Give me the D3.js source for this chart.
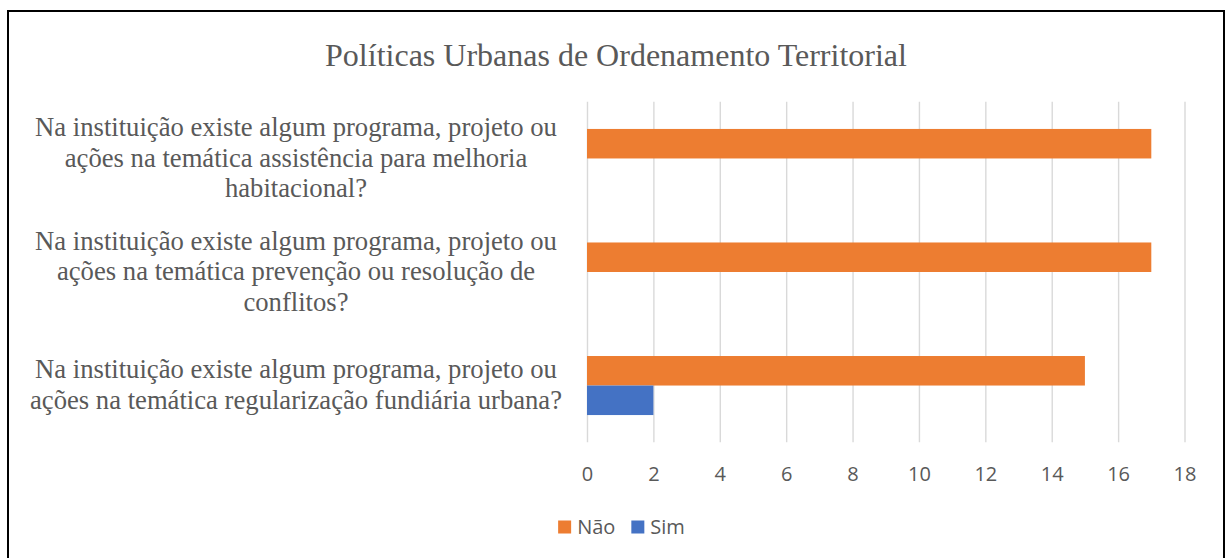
<!DOCTYPE html>
<html>
<head>
<meta charset="utf-8">
<script src="https://cdn.jsdelivr.net/npm/d3@7"></script>
<style>
  body { margin: 0; background: #fff; }
  svg { display: block; }
</style>
</head>
<body>
<div id="chart"></div>
<script>
// data
const chartTitle = "Políticas Urbanas de Ordenamento Territorial";
const categories = [
    "Na instituição existe algum programa, projeto ou ações na temática assistência para melhoria habitacional?",
    "Na instituição existe algum programa, projeto ou ações na temática prevenção ou resolução de conflitos?",
    "Na instituição existe algum programa, projeto ou ações na temática regularização fundiária urbana?"
];
const seriesNames = ["Não", "Sim"];
const naoValues = [17, 17, 15];
const simValues = [0, 0, 2];
const xTicks = [0, 2, 4, 6, 8, 10, 12, 14, 16, 18];
const seriesColors = ["#ED7D31", "#4472C4"];

const width = 1227, height = 558;
const plot = { left: 587, right: 1184.5, top: 101.7, bottom: 442.3 };
const labelCenterX = 296;
const labelWrap = 540;
const lineHeight = 30.6;
const textGray = "#595959";

const svg = d3.select("#chart").append("svg")
    .attr("width", width)
    .attr("height", height);

svg.append("rect")
    .attr("width", width).attr("height", height)
    .attr("fill", "#fff");

// outer frame
svg.append("rect")
    .attr("x", 8).attr("y", 11)
    .attr("width", 1216).attr("height", 560)
    .attr("fill", "none")
    .attr("stroke", "#000")
    .attr("stroke-width", 2);

svg.append("text")
    .attr("x", 616).attr("y", 66)
    .attr("text-anchor", "middle")
    .attr("font-family", "'Liberation Serif', 'Times New Roman', serif")
    .attr("font-size", "32px")
    .attr("fill", textGray)
    .text(chartTitle);

const x = d3.scaleLinear().domain([0, 18]).range([plot.left, plot.right]);
const y = d3.scaleBand().domain(categories)
    .range([plot.top, plot.bottom])
    .paddingInner(0.48).paddingOuter(0.24);
const ySub = d3.scaleBand().domain(seriesNames).range([0, y.bandwidth()]);

// x axis + vertical gridlines
const xAxis = svg.append("g")
    .attr("transform", `translate(0,${plot.bottom})`)
    .call(d3.axisBottom(x).tickValues(xTicks)
        .tickSize(-(plot.bottom - plot.top)).tickPadding(24.5));
xAxis.select(".domain").remove();
xAxis.selectAll(".tick line").attr("stroke", "#d9d9d9").attr("stroke-width", 1.4);
xAxis.selectAll(".tick text")
    .attr("fill", textGray)
    .attr("font-family", "'Open Sans', sans-serif")
    .attr("font-size", "20px");

// bars
const rows = categories.map((c, i) => ({ cat: c, values: [naoValues[i], simValues[i]] }));
const groups = svg.selectAll(".bar-group")
    .data(rows)
    .enter().append("g")
    .attr("class", "bar-group")
    .attr("transform", d => `translate(0,${y(d.cat)})`);

groups.selectAll("rect")
    .data(d => d.values.map((v, j) => ({ name: seriesNames[j], value: v, color: seriesColors[j] })))
    .enter().append("rect")
    .attr("x", x(0))
    .attr("y", d => ySub(d.name))
    .attr("width", d => x(d.value) - x(0))
    .attr("height", ySub.bandwidth())
    .attr("fill", d => d.color);

// category labels, wrapped and centred
const labels = svg.append("g")
    .attr("font-family", "'Liberation Serif', 'Times New Roman', serif")
    .attr("font-size", "26.67px")
    .attr("fill", textGray)
    .attr("text-anchor", "middle");

categories.forEach(cat => {
    const t = labels.append("text").attr("x", labelCenterX);
    const words = cat.split(" ");
    let lines = [], line = [];
    const probe = t.append("tspan");
    words.forEach(w => {
        line.push(w);
        probe.text(line.join(" "));
        if (probe.node().getComputedTextLength() > labelWrap && line.length > 1) {
            line.pop();
            lines.push(line.join(" "));
            line = [w];
        }
    });
    lines.push(line.join(" "));
    probe.remove();
    const mid = y(cat) + y.bandwidth() / 2;
    const top = mid - lines.length * lineHeight / 2;
    lines.forEach((l, i) => {
        t.append("tspan")
            .attr("x", labelCenterX)
            .attr("y", top + 23.5 + i * lineHeight)
            .text(l);
    });
});

// legend
const legend = svg.append("g")
    .attr("font-family", "'Open Sans', sans-serif")
    .attr("font-size", "20px")
    .attr("fill", textGray);
let lx = 0;
seriesNames.forEach((name, i) => {
    const item = legend.append("g").attr("transform", `translate(${lx},0)`);
    item.append("rect")
        .attr("x", 0).attr("y", -6.5)
        .attr("width", 13).attr("height", 13)
        .attr("fill", seriesColors[i]);
    const txt = item.append("text")
        .attr("x", 19).attr("y", 7)
        .text(name);
    lx += 19 + txt.node().getComputedTextLength() + 16;
});
const legendWidth = lx - 16;
legend.attr("transform", `translate(${621.5 - legendWidth / 2},527)`);
</script>
</body>
</html>
